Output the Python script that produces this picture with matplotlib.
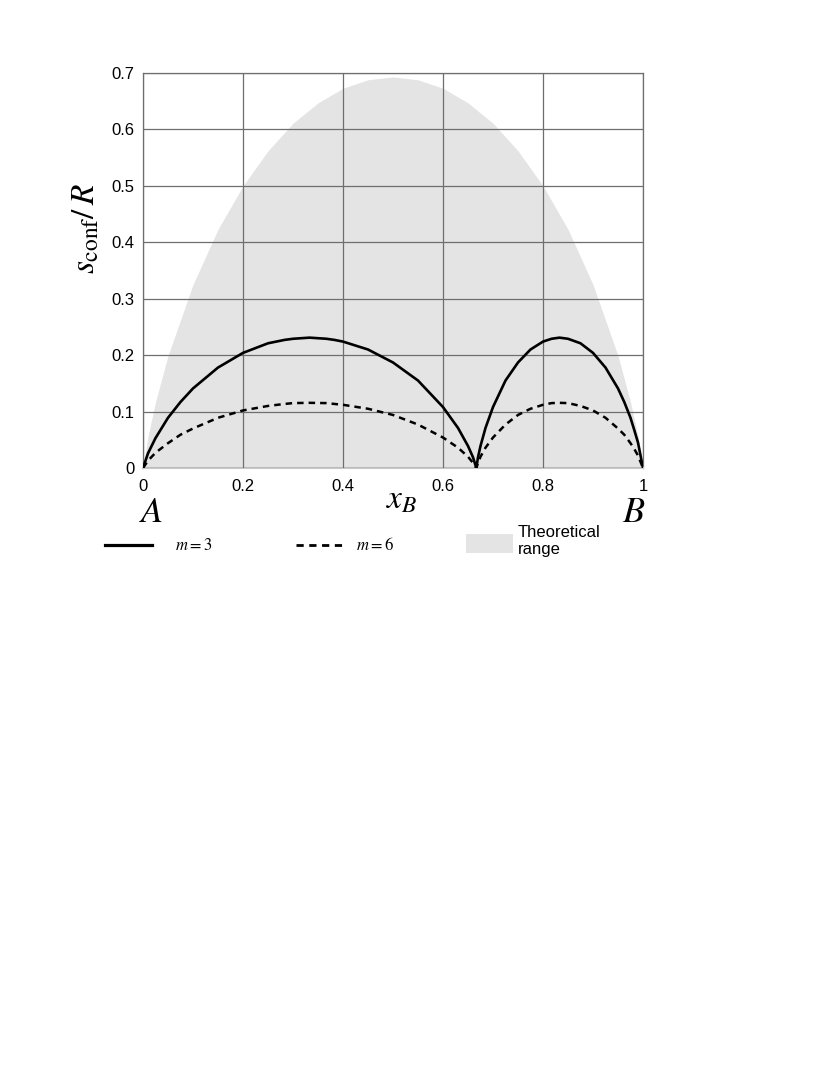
import numpy as np
import matplotlib
matplotlib.use("Agg")
import matplotlib.pyplot as plt
from matplotlib.lines import Line2D
from matplotlib.patches import Rectangle

plt.rcParams['font.family'] = ['Liberation Sans', 'DejaVu Sans']
plt.rcParams['mathtext.fontset'] = 'stix'

# values
x_range = [0, 0.01, 0.025, 0.05, 0.1, 0.15, 0.2, 0.25, 0.3, 0.35, 0.4, 0.45, 0.5,
           0.55, 0.6, 0.65, 0.7, 0.75, 0.8, 0.85, 0.9, 0.95, 0.975, 0.99, 1.0]
y_range = [0, 0.056, 0.117, 0.199, 0.325, 0.423, 0.500, 0.562, 0.611, 0.647, 0.673, 0.688, 0.693,
           0.688, 0.673, 0.647, 0.611, 0.562, 0.500, 0.423, 0.325, 0.199, 0.117, 0.056, 0]

x_m = [0, 0.01, 0.025, 0.05, 0.075, 0.1, 0.15, 0.2, 0.25, 0.283, 0.3, 0.333, 0.367, 0.383, 0.4,
       0.45, 0.5, 0.55, 0.6, 0.63, 0.65, 0.66, 0.6667,
       0.67, 0.675, 0.685, 0.7, 0.725, 0.75, 0.775, 0.8, 0.817, 0.833, 0.85, 0.875, 0.9,
       0.925, 0.95, 0.9625, 0.975, 0.983, 0.99, 1.0]
y_m3 = [0, 0.026, 0.053, 0.089, 0.117, 0.141, 0.178, 0.204, 0.221, 0.227, 0.229, 0.231, 0.229, 0.227,
        0.224, 0.210, 0.187, 0.155, 0.108, 0.071, 0.039, 0.019, 0,
        0.019, 0.039, 0.071, 0.108, 0.155, 0.187, 0.210, 0.224, 0.229, 0.231, 0.229, 0.221, 0.204,
        0.178, 0.141, 0.117, 0.089, 0.066, 0.045, 0]
y_m6 = [0, 0.013, 0.027, 0.044, 0.059, 0.070, 0.089, 0.102, 0.110, 0.1135, 0.115, 0.1155, 0.115,
        0.1135, 0.112, 0.105, 0.094, 0.077, 0.054, 0.036, 0.020, 0.009, 0,
        0.009, 0.020, 0.036, 0.054, 0.077, 0.094, 0.105, 0.112, 0.115, 0.1155, 0.115, 0.110, 0.102,
        0.089, 0.070, 0.059, 0.044, 0.033, 0.022, 0]

xticks = [0, 0.2, 0.4, 0.6, 0.8, 1]
xticklabels = ['0', '0.2', '0.4', '0.6', '0.8', '1']
yticks = [0, 0.1, 0.2, 0.3, 0.4, 0.5, 0.6, 0.7]
yticklabels = ['0', '0.1', '0.2', '0.3', '0.4', '0.5', '0.6', '0.7']

fill_col = '#e4e4e4'
grid_col = '#6e6e6e'

fig = plt.figure(figsize=(8.3, 10.75), dpi=100)
ax = fig.add_axes([143/830, 1 - 468/1075, 500/830, 395/1075])

ax.fill_between(x_range, 0, y_range, color=fill_col, lw=0, zorder=1)
ax.plot(x_m, y_m3, color='black', lw=1.9, zorder=3)
ax.plot(x_m, y_m6, color='black', lw=1.8, dashes=(2.6, 2.0), zorder=3)

ax.set_xlim(0, 1)
ax.set_ylim(0, 0.7)
ax.set_xticks(xticks)
ax.set_xticklabels(xticklabels)
ax.set_yticks(yticks)
ax.set_yticklabels(yticklabels)
ax.tick_params(length=0, labelsize=12, pad=6)
ax.tick_params(axis='x', pad=8)
ax.grid(True, color=grid_col, lw=0.9, zorder=2)
ax.set_axisbelow(False)
for s in ax.spines.values():
    s.set_color(grid_col)
    s.set_linewidth(0.9)
ax.spines['bottom'].set_color('#c8c8c8')
ax.spines['bottom'].set_linewidth(1.5)

# axis labels
fig.text(86/830, 1 - 229/1075, r'$s_{\mathrm{conf}}/\,R$', rotation=90,
         ha='center', va='center', fontsize=24)
fig.text(402/830, 1 - 500/1075, r'$x_B$', ha='center', va='center', fontsize=24)
fig.text(151/830, 1 - 512/1075, r'$A$', ha='center', va='center', fontsize=26)
fig.text(634/830, 1 - 512/1075, r'$B$', ha='center', va='center', fontsize=26)

# legend
ly = 1 - 545/1075
fig.add_artist(Line2D([105/830, 152/830], [ly, ly], color='black', lw=2.3,
                      transform=fig.transFigure))
fig.text(175/830, ly, r'$m = 3$', ha='left', va='center', fontsize=12)
fig.add_artist(Line2D([296/830, 343/830], [ly, ly], color='black', lw=2.0,
                      dashes=(2.6, 2.0), transform=fig.transFigure))
fig.text(356/830, ly, r'$m = 6$', ha='left', va='center', fontsize=12)
fig.add_artist(Rectangle((466/830, 1 - 553/1075), 47/830, 19/1075, color=fill_col,
                         lw=0, transform=fig.transFigure))
fig.text(518/830, 1 - 541/1075, 'Theoretical\nrange', ha='left', va='center',
         fontsize=12, linespacing=1.15)

fig.savefig('out.png', dpi=100)
